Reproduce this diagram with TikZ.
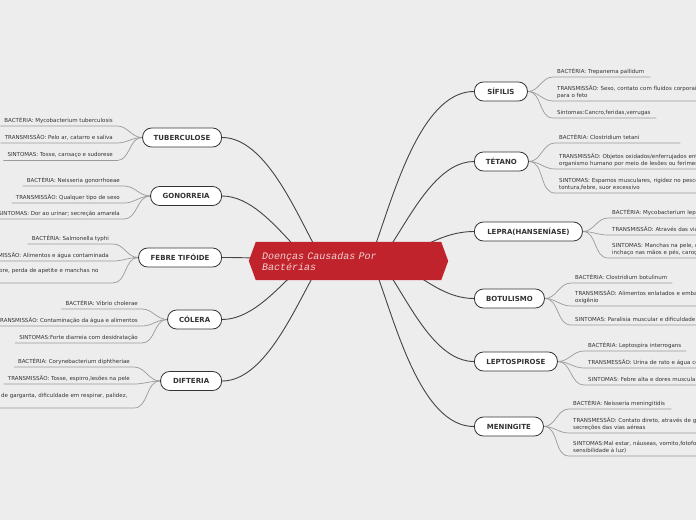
\documentclass[tikz,border=0pt]{standalone}
\usepackage{fontspec}
\setmainfont{DejaVu Sans}
\newfontfamily\raizfont{Liberation Mono}
\usetikzlibrary{positioning}
\definecolor{fundo}{HTML}{EDEDED}
\definecolor{vermelho}{HTML}{C0232B}
\definecolor{rosa}{HTML}{F2D2D2}
\definecolor{linha}{HTML}{444444}
\definecolor{cinza}{HTML}{9A9A9A}
\definecolor{texto}{HTML}{333333}
\pgfdeclarelayer{camadafundo}
\pgfdeclarelayer{ligacoes}
\pgfsetlayers{camadafundo,ligacoes,main}
\newlength\largurafeb
\newlength\larguradif
\tikzset{
    tema/.style={
        draw=texto,
        fill=white,
        line width=0.8pt,
        rounded corners=9pt,
        minimum height=19pt,
        inner sep=0pt,
        font=\bfseries\fontsize{7}{8}\selectfont,
        text=texto
    },
    itemd/.style={
        anchor=south west,
        align=left,
        inner xsep=4pt,
        inner ysep=1.5pt,
        font=\fontsize{5.5}{6.6}\selectfont,
        text=texto,
        execute at end node=\strut
    },
    iteme/.style={
        itemd,
        anchor=south east
    },
    raiz/.style={
        text width=173pt,
        align=left,
        inner xsep=13pt,
        inner ysep=0pt,
        minimum height=38pt,
        font=\raizfont\itshape\fontsize{10}{11}\selectfont,
        text=rosa
    },
    ramo/.style={draw=linha, line width=0.9pt},
    galho/.style={draw=cinza, line width=0.7pt}
}

\begin{document}
\settowidth\largurafeb{\fontsize{5.5}{6.6}\selectfont SINTOMAS: Febre, perda de apetite e manchas no}
\addtolength\largurafeb{11pt}
\settowidth\larguradif{\fontsize{5.5}{6.6}\selectfont SINTOMAS: Dor de garganta, dificuldade em respirar, palidez,}
\addtolength\larguradif{3pt}
\begin{tikzpicture}[x=1pt, y=-1pt]

    \useasboundingbox (0,0) rectangle (696,520);
    \begin{pgfonlayer}{camadafundo}
        \fill[fundo] (0,0) rectangle (696,520);
    \end{pgfonlayer}

    % Centro
    \node[raiz] (raiz) at (348.5,261) {Doenças Causadas Por\\Bactérias};

    % Temas, lado esquerdo
    \node[tema, anchor=east, minimum width=79pt] (tub) at (222,137.5) {TUBERCULOSE};
    \node[tema, anchor=east, minimum width=71pt] (gon) at (222,196)   {GONORREIA};
    \node[tema, anchor=east, minimum width=83pt] (feb) at (222,257.5) {FEBRE TIFÓIDE};
    \node[tema, anchor=east, minimum width=54pt] (col) at (222,319.5) {CÓLERA};
    \node[tema, anchor=east, minimum width=61pt] (dif) at (222,381)   {DIFTERIA};

    % Temas, lado direito
    \node[tema, anchor=west, minimum width=53pt]  (sif) at (474,91.5)  {SÍFILIS};
    \node[tema, anchor=west, minimum width=54pt]  (tet) at (474,161.5) {TÉTANO};
    \node[tema, anchor=west, minimum width=108pt] (lep) at (474,231.5) {LEPRA(HANSENÍASE)};
    \node[tema, anchor=west, minimum width=70pt]  (bot) at (474,298.5) {BOTULISMO};
    \node[tema, anchor=west, minimum width=83pt]  (lpt) at (474,361.5) {LEPTOSPIROSE};
    \node[tema, anchor=west, minimum width=69pt]  (men) at (474,426.5) {MENINGITE};

    % Tuberculose
    \node[iteme] (tub1) at (117,126)   {BACTÉRIA: Mycobacterium tuberculosis};
    \node[iteme] (tub2) at (117,143)   {TRANSMISSÃO: Pelo ar, catarro e saliva};
    \node[iteme] (tub3) at (117,160.5) {SINTOMAS: Tosse, cansaço e sudorese};

    % Gonorreia
    \node[iteme] (gon1) at (124,186) {BACTÉRIA: Neisseria gonorrhoeae};
    \node[iteme] (gon2) at (124,203) {TRANSMISSÃO: Qualquer tipo de sexo};
    \node[iteme] (gon3) at (124,219) {SINTOMAS: Dor ao urinar; secreção amarela};

    % Febre tifoide
    \node[iteme] (feb1) at (113,244) {BACTÉRIA: Salmonella typhi};
    \node[iteme] (feb2) at (113,261) {TRANSMISSÃO: Alimentos e água contaminada};
    \node[iteme, text width=\largurafeb] (feb3) at (113,283)
        {SINTOMAS: Febre, perda de apetite e manchas no\\corpo};

    % Colera
    \node[iteme] (col1) at (142,309) {BACTÉRIA: Vibrio cholerae};
    \node[iteme] (col2) at (142,326) {TRANSMISSÃO: Contaminação da água e alimentos};
    \node[iteme] (col3) at (142,343) {SINTOMAS:Forte diarreia com desidratação};

    % Difteria
    \node[iteme] (dif1) at (134,367) {BACTÉRIA: Corynebacterium diphtheriae};
    \node[iteme] (dif2) at (134,384) {TRANSMISSÃO: Tosse, espirro,lesões na pele};
    \node[iteme, text width=\larguradif] (dif3) at (134,408)
        {SINTOMAS: Dor de garganta, dificuldade em respirar, palidez,\\febre};

    % Sifilis
    \node[itemd, text width=89pt]  (sif1) at (553,77)  {BACTÉRIA: Trepanema pallidum};
    \node[itemd, text width=200pt] (sif2) at (553,101) {TRANSMISSÃO: Sexo, contato com fluidos corporais\\para o feto};
    \node[itemd, text width=95pt]  (sif3) at (553,118) {Sintomas:Cancro,feridas,verrugas};

    % Tetano
    \node[itemd, text width=117pt] (tet1) at (555,143) {BACTÉRIA: Clostridium tetani};
    \node[itemd, text width=200pt] (tet2) at (555,169) {TRANSMISSÃO: Objetos oxidados/enferrujados entram no\\organismo humano por meio de lesões ou ferimentos};
    \node[itemd, text width=200pt] (tet3) at (555,193) {SINTOMAS: Espamos musculares, rigidez no pescoço,\\tontura,febre, suor excessivo};

    % Lepra
    \node[itemd, text width=200pt] (lep1) at (608,218) {BACTÉRIA: Mycobacterium leprae};
    \node[itemd, text width=200pt] (lep2) at (608,235) {TRANSMISSÃO: Através das vias aéreas};
    \node[itemd, text width=200pt] (lep3) at (608,258) {SINTOMAS: Manchas na pele, dormência,\\inchaço nas mãos e pés, caroços};

    % Botulismo
    \node[itemd, text width=93pt]  (bot1) at (571,283) {BACTÉRIA: Clostridium botulinum};
    \node[itemd, text width=200pt] (bot2) at (571,306) {TRANSMISSÃO: Alimentos enlatados e embalados sem\\oxigênio};
    \node[itemd, text width=200pt] (bot3) at (571,325) {SINTOMAS: Paralisia muscular e dificuldade respiratória};

    % Leptospirose
    \node[itemd, text width=94pt]  (lpt1) at (584,351) {BACTÉRIA: Leptospira interrogans};
    \node[itemd, text width=200pt] (lpt2) at (584,368) {TRANSMESSÃO: Urina de rato e água contaminada};
    \node[itemd, text width=200pt] (lpt3) at (584,385) {SINTOMAS: Febre alta e dores musculares};

    % Meningite
    \node[itemd, text width=94pt]  (men1) at (569,409) {BACTÉRIA: Neisseria meningitidis};
    \node[itemd, text width=200pt] (men2) at (569,433) {TRANSMESSÃO: Contato direto, através de gotículas e\\secreções das vias aéreas};
    \node[itemd, text width=200pt] (men3) at (569,456) {SINTOMAS:Mal estar, náuseas, vomito,fotofobia (\\sensibilidade à luz)};

    % Ligacoes
    \begin{pgfonlayer}{ligacoes}
        \draw[ramo] (raiz.center) to[out=252, in=0]   (tub.east);
        \draw[ramo] (raiz.center) to[out=235, in=0]   (gon.east);
        \draw[ramo] (raiz.center) to[out=180, in=0]   (feb.east);
        \draw[ramo] (raiz.center) to[out=128, in=0]   (col.east);
        \draw[ramo] (raiz.center) to[out=110, in=0]   (dif.east);
        \draw[ramo] (raiz.center) to[out=-74, in=180] (sif.west);
        \draw[ramo] (raiz.center) to[out=-60, in=180] (tet.west);
        \draw[ramo] (raiz.center) to[out=-20, in=180] (lep.west);
        \draw[ramo] (raiz.center) to[out=32, in=180]  (bot.west);
        \draw[ramo] (raiz.center) to[out=58, in=180]  (lpt.west);
        \draw[ramo] (raiz.center) to[out=70, in=180]  (men.west);

        \foreach \t in {tub,gon,feb,col,dif}
            \foreach \i in {1,2,3}
                \draw[galho] (\t.west) to[out=180, in=0] (\t\i.south east) -- (\t\i.south west);
        \foreach \t in {sif,tet,lep,bot,lpt,men}
            \foreach \i in {1,2,3}
                \draw[galho] (\t.east) to[out=0, in=180] (\t\i.south west) -- (\t\i.south east);

        \fill[vermelho] (raiz.west) -- ([xshift=7pt]raiz.north west)
            -- ([xshift=-7pt]raiz.north east) -- (raiz.east)
            -- ([xshift=-7pt]raiz.south east) -- ([xshift=7pt]raiz.south west) -- cycle;
    \end{pgfonlayer}

\end{tikzpicture}
\end{document}
